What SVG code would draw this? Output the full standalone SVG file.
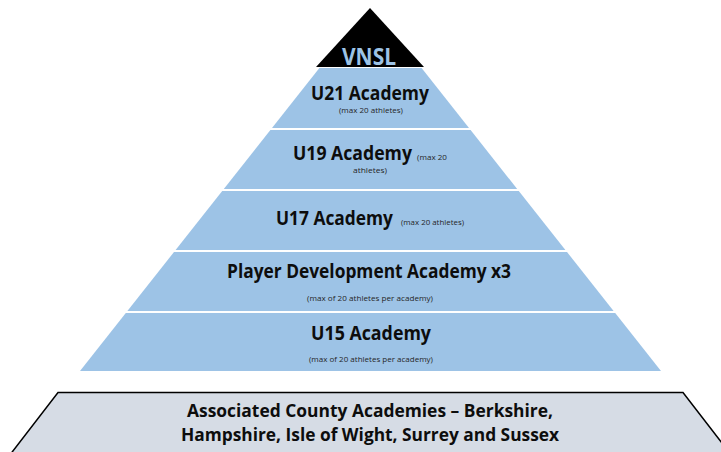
<svg xmlns="http://www.w3.org/2000/svg" width="721" height="452" viewBox="0 0 721 452">
<style>
.band{fill:#9DC3E6;}
.t{font-family:"Open Sans","Noto Sans",sans-serif;font-weight:bold;fill:#0D0D0D;}
.s{font-family:"Open Sans","Noto Sans",sans-serif;font-size:7.5px;fill:#262626;}
</style>
<rect width="721" height="452" fill="#FFFFFF"/>
<g id="vnsl">
<polygon points="370,8 316,67 424,67" fill="#000000"/>
<text x="342" y="65" class="t" style="font-size:22.5px;fill:#9DC3E6" textLength="54" lengthAdjust="spacingAndGlyphs">VNSL</text>
</g>
<g id="u21">
<polygon class="band" points="319.4,68 421.6,68 469,128 272,128"/>
<text x="311" y="100" class="t" style="font-size:18.8px" textLength="118" lengthAdjust="spacingAndGlyphs">U21 Academy</text>
<text x="339" y="113" class="s" textLength="64" lengthAdjust="spacingAndGlyphs">(max 20 athletes)</text>
</g>
<g id="u19">
<polygon class="band" points="270.4,130 470.6,130 517.2,189 223.8,189"/>
<text x="293" y="160" class="t" style="font-size:18.8px" textLength="119" lengthAdjust="spacingAndGlyphs">U19 Academy</text>
<text x="417" y="160" class="s" textLength="30" lengthAdjust="spacingAndGlyphs">(max 20</text>
<text x="353" y="173" class="s" textLength="34" lengthAdjust="spacingAndGlyphs">athletes)</text>
</g>
<g id="u17">
<polygon class="band" points="222.2,191 518.8,191 565.4,250 175.6,250"/>
<text x="276" y="225" class="t" style="font-size:18.8px" textLength="117" lengthAdjust="spacingAndGlyphs">U17 Academy</text>
<text x="401" y="225" class="s" textLength="63" lengthAdjust="spacingAndGlyphs">(max 20 athletes)</text>
</g>
<g id="pda">
<polygon class="band" points="174,252 567,252 613.6,311 127.4,311"/>
<text x="227" y="278" class="t" style="font-size:18.8px" textLength="284" lengthAdjust="spacingAndGlyphs">Player Development Academy x3</text>
<text x="307" y="301" class="s" textLength="126" lengthAdjust="spacingAndGlyphs">(max of 20 athletes per academy)</text>
</g>
<g id="u15">
<polygon class="band" points="125.8,313 615.2,313 661,371 80,371"/>
<text x="311" y="340" class="t" style="font-size:18.8px" textLength="120" lengthAdjust="spacingAndGlyphs">U15 Academy</text>
<text x="309" y="362" class="s" textLength="124" lengthAdjust="spacingAndGlyphs">(max of 20 athletes per academy)</text>
</g>
<g id="county">
<polygon points="58,392.5 683,392.5 735,460 6,460" fill="#D6DCE5" stroke="#000000" stroke-width="1.5"/>
<text x="187" y="417" class="t" style="font-size:17.5px" textLength="366" lengthAdjust="spacingAndGlyphs">Associated County Academies – Berkshire,</text>
<text x="181" y="441" class="t" style="font-size:17.5px" textLength="378" lengthAdjust="spacingAndGlyphs">Hampshire, Isle of Wight, Surrey and Sussex</text>
</g>
<g id="connectors"></g>
</svg>
